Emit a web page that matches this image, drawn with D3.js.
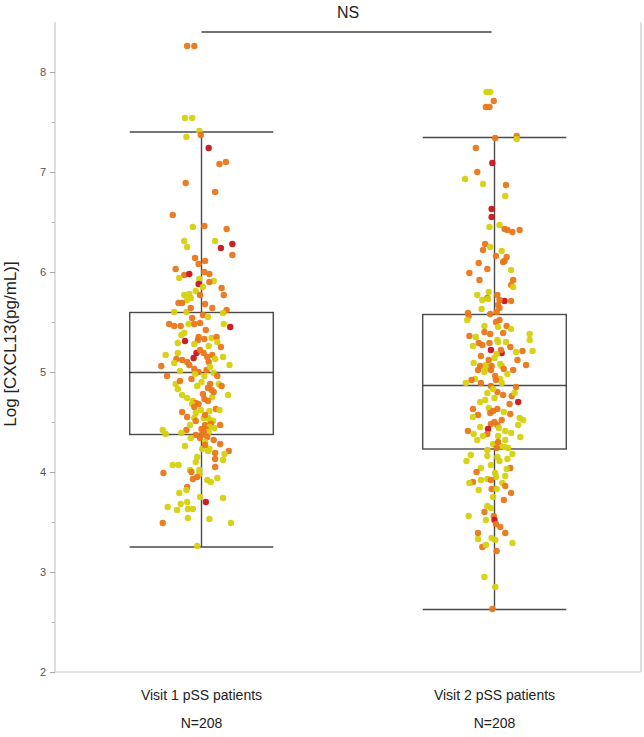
<!DOCTYPE html>
<html>
<head>
<meta charset="utf-8">
<script src="https://cdn.jsdelivr.net/npm/d3@7/dist/d3.min.js"></script>
<style>
  html, body { margin: 0; padding: 0; background: #fff; }
  svg { display: block; font-family: "Liberation Sans", Arial, sans-serif; }
</style>
</head>
<body>
<div id="chart"></div>
<script>
// ---------- DATA ----------
const categories = ["Visit 1 pSS patients", "Visit 2 pSS patients"];
const countLabels = ["N=208", "N=208"];
const yTicks = [2, 3, 4, 5, 6, 7, 8];
const yMinorTicks = [2.5, 3.5, 4.5, 5.5, 6.5, 7.5];
const yTitle = "Log [CXCL13(pg/mL)]";
const comparisonLabel = "NS";

// box statistics: [lower whisker, Q1, median, Q3, upper whisker]
const visit1Box = [3.25, 4.375, 4.995, 5.595, 7.40];
const visit2Box = [2.625, 4.23, 4.865, 5.575, 7.345];

// colour classes: 0 = yellow, 1 = orange, 2 = red
const pointColors = ["#d5d10f", "#e8771a", "#c9141c"];

// points: [value, horizontal jitter (-1..1 of half box width), colour class]
const visit1Points = [
[8.26,-0.20,1],[8.26,-0.10,1],[7.54,-0.23,0],[7.54,-0.13,0],[7.41,-0.03,0],[7.37,-0.01,1],[7.35,-0.21,0],
[7.24,0.10,2],[7.08,0.25,1],[7.10,0.34,1],[6.89,-0.22,1],[6.80,0.19,1],[6.57,-0.40,1],[6.45,-0.12,0],
[6.46,0.04,1],[6.43,0.35,1],[6.31,-0.24,0],[6.31,0.19,0],[6.28,0.43,2],[6.24,0.27,2],[6.25,-0.20,0],
[6.17,0.43,1],[6.14,-0.09,1],[6.11,0.05,1],[6.08,-0.04,1],[6.03,-0.36,1],[5.97,-0.24,1],[5.98,-0.17,2],
[6.00,0.04,1],[5.98,0.11,1],[5.94,-0.31,0],[5.93,-0.03,0],[5.91,0.17,0],[5.90,0.11,1],[5.88,-0.04,2],
[5.84,0.28,1],[5.81,-0.08,0],[5.78,-0.17,0],[5.77,-0.24,0],[5.77,-0.02,1],[5.77,0.31,1],[5.74,-0.15,0],
[5.72,-0.20,0],[5.69,-0.32,1],[5.69,-0.27,1],[5.64,0.15,1],[5.60,-0.38,0],[5.60,-0.21,0],[5.64,-0.15,1],
[5.62,0.35,1],[5.59,0.30,0],[5.57,0.02,1],[5.54,-0.13,1],[5.48,-0.45,1],[5.46,-0.38,1],[5.46,-0.29,1],
[5.48,-0.18,0],[5.48,-0.10,1],[5.49,-0.02,1],[5.48,0.31,0],[5.45,0.40,2],[5.39,-0.24,0],[5.37,-0.28,0],
[5.35,-0.04,1],[5.32,-0.05,1],[5.34,0.14,0],[5.33,0.04,1],[5.35,0.21,1],[5.31,-0.23,2],[5.29,-0.33,0],
[5.28,-0.10,0],[5.25,0.27,1],[5.17,-0.50,0],[5.19,-0.33,0],[5.19,-0.07,2],[5.14,-0.11,2],[5.19,0.03,1],
[5.17,0.15,1],[5.15,0.30,0],[5.13,-0.35,1],[5.09,-0.38,0],[5.10,-0.20,1],[5.10,0.10,1],[5.13,0.19,0],
[5.06,-0.56,1],[5.07,0.39,0],[5.07,-0.17,1],[5.03,-0.10,1],[5.02,0.07,1],[4.96,-0.48,1],[4.99,0.17,0],
[4.96,0.04,0],[4.88,-0.36,0],[4.86,-0.06,0],[4.91,-0.30,1],[4.84,0.09,1],[4.88,0.12,1],[4.88,0.24,0],
[4.82,0.14,1],[4.83,-0.33,0],[4.77,-0.27,0],[4.77,0.37,0],[4.75,0.15,0],[4.73,0.04,1],[4.71,0.09,1],
[4.71,-0.12,0],[4.69,-0.08,1],[4.68,-0.13,0],[4.65,-0.10,1],[4.61,0.11,0],[4.63,0.20,1],[4.62,-0.01,0],
[4.60,-0.27,1],[4.59,-0.08,0],[4.54,-0.10,0],[4.54,0.03,0],[4.54,0.09,0],[4.51,-0.08,1],[4.52,0.12,0],
[4.51,0.16,0],[4.47,0.05,1],[4.47,0.26,1],[4.48,0.13,1],[4.45,0.11,0],[4.43,0.00,1],[4.43,0.06,1],
[4.42,-0.54,0],[4.38,-0.50,0],[4.42,-0.21,1],[4.39,-0.28,0],[4.37,-0.08,1],[4.37,0.00,1],[4.40,0.10,0],
[4.34,-0.15,0],[4.35,0.08,1],[4.34,-0.02,1],[4.30,0.05,0],[4.32,0.17,1],[4.28,0.26,1],[4.26,-0.23,0],
[4.23,0.01,0],[4.21,0.09,0],[4.23,0.11,0],[4.21,0.38,1],[4.18,0.32,0],[4.19,0.19,1],[4.15,-0.06,0],
[4.13,0.19,1],[4.12,0.30,0],[4.07,-0.40,0],[4.07,-0.32,0],[4.05,0.19,1],[4.02,-0.03,0],[4.02,-0.16,0],
[4.00,-0.14,1],[3.99,-0.53,1],[3.98,-0.03,0],[3.95,-0.06,1],[3.93,-0.12,1],[3.94,0.22,0],[3.92,0.08,0],
[3.90,0.13,0],[3.85,-0.20,1],[3.82,-0.21,0],[3.79,-0.31,0],[3.75,-0.02,0],[3.74,0.30,0],[3.70,-0.20,0],
[3.70,0.06,2],[3.68,-0.29,0],[3.65,-0.47,0],[3.63,-0.19,0],[3.63,-0.12,0],[3.62,-0.34,0],[3.54,-0.19,0],
[3.53,0.11,0],[3.49,-0.54,1],[3.49,0.41,0],[3.26,-0.06,0],
[5.00,-0.04,1],[4.96,0.22,1],[4.90,0.00,0],[4.80,0.17,1],[4.68,-0.04,1],[5.42,0.06,1],[5.22,-0.02,1],
[5.05,0.12,0],[4.93,-0.14,1],[4.57,0.05,1],[4.47,-0.16,0],[5.55,0.09,0],[5.12,-0.27,1],[4.74,-0.20,0],
[4.44,0.18,0],[5.30,0.22,0],[4.86,0.28,1],[5.01,-0.30,0],[4.62,0.25,0],[5.68,0.05,1],[4.40,0.03,1],
[5.15,0.08,1],[4.98,-0.09,0],[4.55,-0.20,1],[4.78,0.02,1],[5.26,0.10,0],[4.27,0.05,1],[5.85,0.02,0],
[4.10,-0.08,0]
];

const visit2Points = [
[7.80,-0.11,0],[7.80,-0.06,0],[7.71,-0.01,1],[7.65,-0.12,1],[7.65,-0.07,1],[7.34,0.01,1],[7.36,0.31,1],
[7.33,0.31,0],[7.24,-0.26,1],[7.09,-0.03,2],[7.00,-0.24,1],[6.93,-0.41,0],[6.88,-0.16,0],[6.87,0.16,1],
[6.76,0.15,0],[6.63,-0.04,2],[6.55,-0.04,2],[6.45,-0.07,0],[6.47,0.07,0],[6.43,0.14,1],[6.42,0.18,1],
[6.40,0.25,1],[6.42,0.35,1],[6.28,-0.13,1],[6.25,-0.06,0],[6.22,-0.16,1],[6.21,0.10,0],[6.16,0.02,1],
[6.15,0.17,1],[6.11,0.14,1],[6.10,0.12,1],[6.09,-0.22,1],[6.03,-0.10,1],[5.99,-0.35,1],[6.02,0.23,0],
[5.92,-0.21,1],[5.92,0.26,1],[5.87,0.23,1],[5.85,0.26,0],[5.80,-0.08,0],[5.77,-0.24,0],[5.77,0.04,1],
[5.74,-0.10,1],[5.72,-0.17,0],[5.73,-0.09,0],[5.71,0.14,2],[5.71,0.23,1],[5.72,0.07,1],[5.67,0.05,1],
[5.64,0.07,1],[5.60,0.03,1],[5.59,-0.37,1],[5.58,-0.06,1],[5.56,-0.36,1],[5.52,-0.38,0],[5.52,0.07,1],
[5.46,-0.14,0],[5.46,0.17,1],[5.43,0.23,0],[5.40,-0.14,1],[5.38,-0.06,1],[5.36,-0.35,1],[5.38,0.49,0],
[5.39,0.12,1],[5.29,-0.22,1],[5.27,-0.17,1],[5.29,-0.07,1],[5.26,-0.30,0],[5.32,0.04,0],[5.30,0.05,0],
[5.30,0.16,0],[5.32,0.49,0],[5.22,-0.05,2],[5.19,0.10,2],[5.22,0.09,1],[5.18,0.03,0],[5.20,0.30,0],
[5.21,0.39,1],[5.21,0.53,0],[5.16,-0.19,1],[5.14,0.00,0],[5.12,0.32,1],[5.09,-0.29,0],[5.07,-0.12,0],
[5.08,0.08,0],[5.06,0.10,0],[5.07,0.44,1],[5.06,-0.04,1],[5.06,-0.20,1],[5.03,-0.13,0],[5.03,0.13,1],
[5.02,-0.23,1],[5.02,-0.05,1],[5.02,0.26,1],[5.00,-0.14,0],[4.96,0.01,1],[4.93,-0.27,0],[4.93,0.08,0],
[4.89,-0.40,0],[4.89,-0.19,1],[4.86,-0.05,1],[4.89,0.10,0],[4.92,0.02,1],[4.79,-0.10,0],[4.80,0.04,1],
[4.77,0.12,1],[4.83,-0.02,0],[4.76,0.24,1],[4.79,0.28,0],[4.74,0.00,0],[4.72,-0.13,0],[4.70,0.33,2],
[4.68,0.21,1],[4.64,-0.08,0],[4.63,-0.30,1],[4.63,0.04,1],[4.61,-0.02,1],[4.60,0.13,0],[4.59,-0.06,1],
[4.57,-0.23,1],[4.55,-0.30,0],[4.54,0.35,0],[4.52,0.10,1],[4.50,0.00,1],[4.48,-0.05,1],[4.47,0.04,1],
[4.47,0.33,0],[4.44,0.06,0],[4.43,-0.09,2],[4.41,-0.37,1],[4.41,0.15,0],[4.39,0.23,0],[4.38,-0.29,0],
[4.38,-0.10,1],[4.36,-0.16,0],[4.36,0.05,0],[4.35,0.36,0],[4.32,-0.24,0],[4.32,0.15,0],[4.28,-0.02,0],
[4.26,0.08,0],[4.24,0.03,1],[4.25,0.14,0],[4.24,0.19,0],[4.22,-0.10,0],[4.17,-0.33,0],[4.16,-0.10,0],
[4.15,0.04,0],[4.13,0.18,0],[4.11,-0.39,0],[4.11,0.07,0],[4.04,-0.19,0],[4.04,0.22,1],[4.03,0.17,0],
[3.99,0.01,0],[3.95,0.02,0],[3.96,0.15,0],[3.92,-0.19,0],[3.93,-0.10,0],[3.92,-0.05,1],[3.90,-0.30,1],
[3.89,-0.35,0],[3.89,0.11,0],[3.86,0.15,1],[3.82,-0.22,0],[3.83,-0.04,1],[3.83,0.03,0],[3.79,0.23,1],
[3.72,0.13,1],[3.66,-0.10,0],[3.64,-0.05,0],[3.60,-0.14,1],[3.56,-0.36,0],[3.56,-0.01,1],[3.52,-0.12,0],
[3.52,0.00,2],[3.48,0.02,1],[3.39,-0.23,1],[3.39,0.15,1],[3.33,-0.23,0],[3.34,-0.04,0],[3.32,0.01,0],
[3.29,0.25,0],[3.25,-0.17,1],[3.27,-0.12,0],[3.21,0.03,1],[2.95,-0.14,0],[2.85,0.01,0],[2.63,-0.03,1],
[5.50,0.02,1],[5.35,-0.26,0],[5.12,-0.08,1],[4.98,0.18,0],[4.85,0.30,1],[4.70,-0.20,0],[4.58,0.22,1],
[4.45,-0.20,0],[4.30,0.05,1],[4.18,0.25,0],[4.07,-0.05,0],[5.25,0.22,1],[5.63,-0.18,0],[4.92,-0.32,1],
[4.52,0.40,0],[3.75,-0.02,0],[3.45,0.08,1],[4.00,-0.25,1],[5.45,0.05,0]
];

// ---------- LAYOUT ----------
const W = 644, H = 737;
const plot = { left: 55, right: 641, top: 24, bottom: 672 };

const svg = d3.select("#chart").append("svg")
  .attr("width", W).attr("height", H);

const x = d3.scaleBand()
  .domain(categories)
  .range([plot.left, plot.right])
  .paddingInner(0.51)
  .paddingOuter(0.255);

const y = d3.scaleLinear()
  .domain([2, 8.48])
  .range([plot.bottom, plot.top]);

const jitter = d3.scaleLinear()
  .domain([-1, 1])
  .range([-x.bandwidth() / 2, x.bandwidth() / 2]);

const frameColor = "#c8c8c8";
const boxColor = "#4a4a4a";

// frame: right and bottom
svg.append("line")
  .attr("x1", plot.left).attr("x2", plot.right)
  .attr("y1", plot.bottom).attr("y2", plot.bottom)
  .attr("stroke", frameColor).attr("stroke-width", 1.2);
svg.append("line")
  .attr("x1", plot.right).attr("x2", plot.right)
  .attr("y1", plot.top - 2).attr("y2", plot.bottom)
  .attr("stroke", frameColor).attr("stroke-width", 1.2);

// y axis
const yAxis = d3.axisLeft(y).tickValues(yTicks).tickSize(5).tickPadding(4).tickFormat(d3.format("d"));
const gy = svg.append("g")
  .attr("transform", `translate(${plot.left},0)`)
  .call(yAxis);
gy.select(".domain").attr("stroke", frameColor).attr("stroke-width", 1.2)
  .attr("d", `M0,${plot.top - 2}V${plot.bottom}`);
gy.selectAll(".tick line").attr("stroke", "#aaa");
gy.selectAll(".tick text").attr("fill", "#555").style("font-size", "11px");

const yMinor = d3.axisLeft(y).tickValues(yMinorTicks).tickSize(3).tickFormat("");
const gym = svg.append("g")
  .attr("transform", `translate(${plot.left},0)`)
  .call(yMinor);
gym.select(".domain").remove();
gym.selectAll(".tick line").attr("stroke", "#bbb");

// y title
svg.append("text")
  .attr("transform", `translate(16,344) rotate(-90)`)
  .attr("text-anchor", "middle")
  .attr("fill", "#222")
  .style("font-size", "17px")
  .text(yTitle);

// x labels
const xAxis = svg.append("g");
categories.forEach((c, i) => {
  const cx = x(c) + x.bandwidth() / 2;
  xAxis.append("text")
    .attr("x", cx).attr("y", 700)
    .attr("text-anchor", "middle").attr("fill", "#222")
    .style("font-size", "14px")
    .text(c);
  xAxis.append("text")
    .attr("x", cx).attr("y", 728)
    .attr("text-anchor", "middle").attr("fill", "#222")
    .style("font-size", "14px")
    .text(countLabels[i]);
});

// boxes
const boxes = [visit1Box, visit2Box];
boxes.forEach((b, i) => {
  const x0 = x(categories[i]);
  const bw = x.bandwidth();
  const cx = x0 + bw / 2;
  const g = svg.append("g").attr("stroke", boxColor).attr("stroke-width", 1.4).attr("fill", "none");
  g.append("line").attr("x1", cx).attr("x2", cx).attr("y1", y(b[4])).attr("y2", y(b[3]));
  g.append("line").attr("x1", cx).attr("x2", cx).attr("y1", y(b[1])).attr("y2", y(b[0]));
  g.append("line").attr("x1", x0).attr("x2", x0 + bw).attr("y1", y(b[4])).attr("y2", y(b[4]));
  g.append("line").attr("x1", x0).attr("x2", x0 + bw).attr("y1", y(b[0])).attr("y2", y(b[0]));
  g.append("rect").attr("x", x0).attr("width", bw)
    .attr("y", y(b[3])).attr("height", y(b[1]) - y(b[3]));
  g.append("line").attr("x1", x0).attr("x2", x0 + bw).attr("y1", y(b[2])).attr("y2", y(b[2]));
});

// points
const allPoints = [visit1Points, visit2Points];
allPoints.forEach((pts, i) => {
  const cx = x(categories[i]) + x.bandwidth() / 2;
  svg.append("g").selectAll("circle")
    .data(pts)
    .join("circle")
    .attr("cx", d => cx + jitter(d[1]))
    .attr("cy", d => y(d[0]))
    .attr("r", 3.2)
    .attr("fill", d => pointColors[d[2]])
    .attr("fill-opacity", 0.95);
});

// comparison bracket
const c1 = x(categories[0]) + x.bandwidth() / 2;
const c2 = x(categories[1]) + x.bandwidth() / 2;
svg.append("line")
  .attr("x1", c1).attr("x2", c2 - 3)
  .attr("y1", 32).attr("y2", 32)
  .attr("stroke", "#444").attr("stroke-width", 1.5);
svg.append("text")
  .attr("x", (c1 + c2) / 2).attr("y", 18)
  .attr("text-anchor", "middle").attr("fill", "#222")
  .style("font-size", "16px")
  .text(comparisonLabel);
</script>
</body>
</html>
